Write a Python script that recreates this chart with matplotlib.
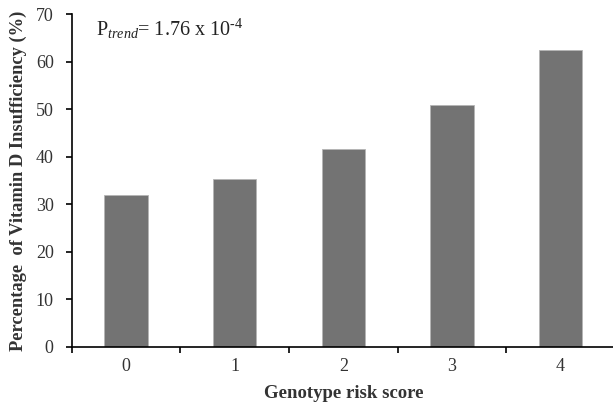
import numpy as np
import matplotlib
matplotlib.use("Agg")
import matplotlib.pyplot as plt

# values
scores = ["0", "1", "2", "3", "4"]
pct_insuff = [31.9, 35.3, 41.7, 50.9, 62.4]
yticks = [0, 10, 20, 30, 40, 50, 60, 70]

plt.rcParams['font.family'] = ['Liberation Serif', 'DejaVu Serif']
plt.rcParams['mathtext.fontset'] = 'custom'
plt.rcParams['mathtext.rm'] = 'Liberation Serif'
plt.rcParams['mathtext.it'] = 'Liberation Serif:italic'

fig = plt.figure(figsize=(6.13, 4.03), dpi=100)
ax = fig.add_axes([0.117, 0.1397, 0.886, 0.8251])

x = np.arange(len(scores))
ax.bar(x, pct_insuff, width=0.4, color='#737373', edgecolor='#b5b5b5', linewidth=0.6)

ax.set_xlim(-0.5, len(scores) - 0.5)
ax.set_ylim(0, 70)
ax.set_yticks(yticks)
ax.set_yticklabels([str(t) for t in yticks], fontsize=13, color='#333333')

# ticks between categories, labels at centres
ax.set_xticks(np.arange(-0.5, len(scores), 1.0))
ax.set_xticklabels([])
ax.set_xticks(x, minor=True)
ax.set_xticklabels(scores, minor=True, fontsize=13, color='#333333')
ax.tick_params(axis='x', which='major', direction='out', length=4, width=1.2)
ax.tick_params(axis='x', which='minor', length=0, pad=8)
ax.tick_params(axis='y', direction='out', length=4, width=1.2, pad=9)

for s in ['top', 'right']:
    ax.spines[s].set_visible(False)
for s in ['left', 'bottom']:
    ax.spines[s].set_linewidth(1.2)

ax.set_xlabel('Genotype risk score', fontsize=13.5, fontweight='bold', color='#333333', labelpad=7)
ax.set_ylabel('Percentage  of Vitamin D Insufficiency (%)', fontsize=13.3, fontweight='bold',
              color='#333333', labelpad=6)

ax.text(0.045, 0.955, 'P$_{\\mathit{trend}}$= 1.76 x 10$^{\u2010 4}$', transform=ax.transAxes,
        fontsize=14.5, color='#222222', va='center', ha='left')

fig.savefig('out.png', dpi=100)
